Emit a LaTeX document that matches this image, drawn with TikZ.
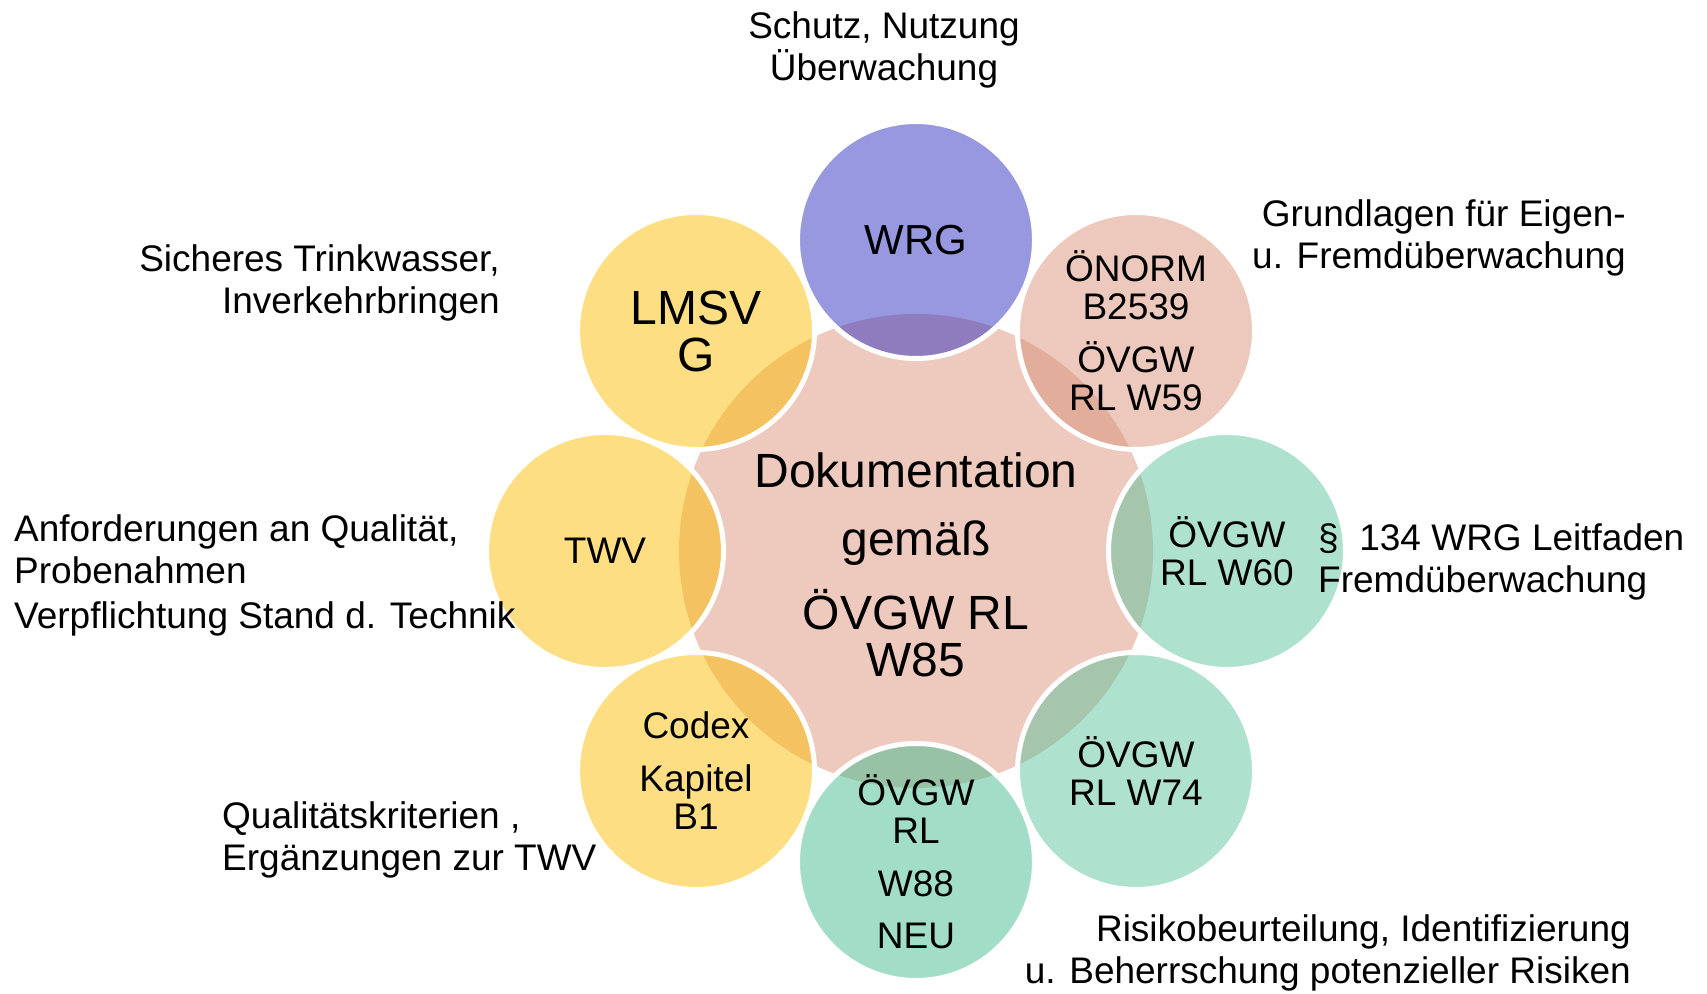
\documentclass[tikz,border=0pt]{standalone}
\usepackage{fontspec}
\setmainfont{Liberation Sans}
\usepackage{xcolor}
\usepackage{tikz}
\usetikzlibrary{positioning}

\definecolor{hubpink}{RGB}{237,201,190}
\definecolor{wrgblue}{RGB}{49,49,193}
\definecolor{normrose}{RGB}{217,147,121}
\definecolor{rlgreen}{RGB}{95,197,157}
\definecolor{neugreen}{RGB}{69,189,143}
\definecolor{lawyellow}{RGB}{251,189,5}

\begin{document}
\begin{tikzpicture}[
        x=1pt, y=1pt,
        on grid,
        every node/.style={font=\fontsize{37}{42}\selectfont},
        hub/.style={circle, fill=hubpink, minimum size=474pt, inner sep=0pt},
        ring/.style={circle, draw=white, line width=5pt, fill opacity=0.5, text opacity=1, minimum size=237pt, inner sep=0pt, align=center, font=\fontsize{37}{38}\selectfont},
        note/.style={inner sep=0pt, align=left}
        ]
        \useasboundingbox (0,0) rectangle (1707,993);

        % Centre
        \node[hub] (core) at (916,442) {};
        \node[inner sep=0pt, align=center, anchor=base, font=\fontsize{48}{47}\selectfont] (coretext) at (916,316) {Dokumentation\\[21pt]gemäß\\[23pt]ÖVGW RL\\W85};

        % Ring of circles
        \node[ring, fill=wrgblue, above=311pt of core, font=\fontsize{42}{46}\selectfont] (wrg) {WRG};
        \node[ring, fill=normrose, above right=220pt and 220pt of core] (onorm) {ÖNORM\\B2539\\[15pt]ÖVGW\\RL W59};
        \node[ring, fill=rlgreen, right=311pt of core] (wsixty) {ÖVGW\\RL W60};
        \node[ring, fill=rlgreen, below right=220pt and 220pt of core] (wseventyfour) {ÖVGW\\RL W74};
        \node[ring, fill=neugreen, below=311pt of core] (weightyeight) {ÖVGW\\RL\\[15pt]W88\\[14pt]NEU};
        \node[ring, fill=lawyellow, below left=220pt and 220pt of core] (codex) {Codex\\[15pt]Kapitel\\B1};
        \node[ring, fill=lawyellow, left=311pt of core] (twv) {TWV};
        \node[ring, fill=lawyellow, above left=220pt and 220pt of core, font=\fontsize{48}{47}\selectfont] (lmsvg) {LMSV\\G};

        % Notes
        \node[note, anchor=base, align=center] (protect) at (884,912) {Schutz, Nutzung\\Überwachung};
        \node[note, anchor=base east, align=right] (safety) at (500,679) {Sicheres Trinkwasser,\\Inverkehrbringen};
        \node[note, anchor=base east, align=right] (selfcheck) at (1626,724) {Grundlagen für Eigen-\\u. Fremdüberwachung};
        \node[note, anchor=base west] (quality) at (14,364) {Anforderungen an Qualität,\\Probenahmen\\[3pt]Verpflichtung Stand d. Technik};
        \node[note, anchor=base west] (guide) at (1318,400) {§\ \ 134 WRG Leitfaden\\Fremdüberwachung};
        \node[note, anchor=base west] (criteria) at (222,122) {Qualitätskriterien ,\\Ergänzungen zur TWV};
        \node[note, anchor=base east, align=right] (risk) at (1631,10) {Risikobeurteilung, Identifizierung\\u. Beherrschung potenzieller Risiken};
    \end{tikzpicture}
\end{document}
